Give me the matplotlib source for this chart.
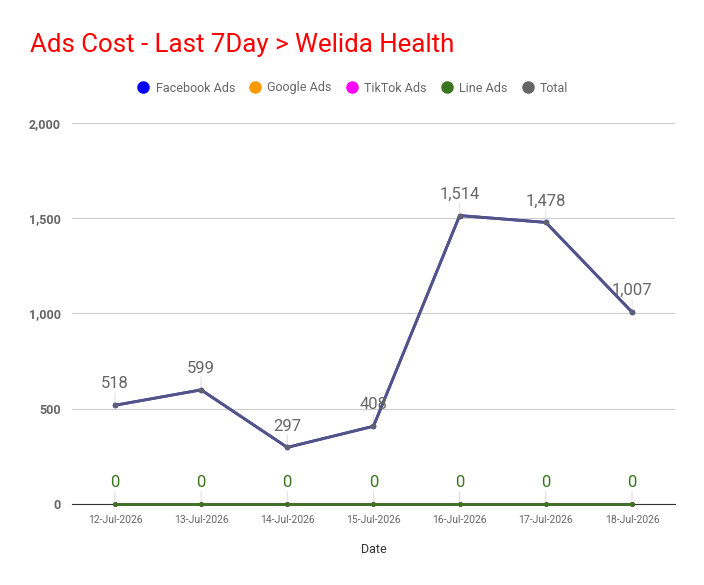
import numpy as np
import matplotlib.pyplot as plt
from matplotlib.lines import Line2D

plt.rcParams['font.family'] = ['Roboto', 'DejaVu Sans']

dates = ["12-Jul-2026", "13-Jul-2026", "14-Jul-2026", "15-Jul-2026",
         "16-Jul-2026", "17-Jul-2026", "18-Jul-2026"]
facebook = [518, 599, 297, 408, 1514, 1478, 1007]
google = [0, 0, 0, 0, 0, 0, 0]
tiktok = [0, 0, 0, 0, 0, 0, 0]
line_ads = [0, 0, 0, 0, 0, 0, 0]
total = [518, 599, 297, 408, 1514, 1478, 1007]

series_names = ["Facebook Ads", "Google Ads", "TikTok Ads", "Line Ads", "Total"]
series_colors = ["#0000ff", "#ff9900", "#ff00ff", "#38761d", "#666666"]

fig = plt.figure(figsize=(7.04, 5.85), dpi=100)
ax = fig.add_axes([0.102, 0.1385, 0.857, 0.6513])
x = np.arange(len(dates))

ax.set_ylim(0, 2000)
ax.set_xlim(-0.5, len(dates) - 0.5)
ax.set_yticks([0, 500, 1000, 1500, 2000])
ax.set_yticklabels(["{:,}".format(v) for v in [0, 500, 1000, 1500, 2000]],
                   fontsize=9, fontweight='bold', color="#666666")
ax.grid(axis='y', color="#cccccc", linewidth=0.8)
ax.set_axisbelow(True)
for s in ['top', 'right', 'left']:
    ax.spines[s].set_visible(False)
ax.spines['bottom'].set_color("#333333")
ax.spines['bottom'].set_zorder(2)
ax.tick_params(axis='y', length=0, pad=8)
ax.tick_params(axis='x', length=0, pad=8)
ax.set_xticks(x)
ax.set_xticklabels(dates, fontsize=7.5, color="#666666")
ax.set_xlabel("Date", fontsize=9, color="#333333", labelpad=13)

# stems from points to labels
def stems(vals, off):
    for xi, v in zip(x, vals):
        ax.annotate("", xy=(xi, v), xytext=(0, off), textcoords='offset points',
                    arrowprops=dict(arrowstyle='-', color="#e0e0e0", lw=0.8,
                                    shrinkA=0, shrinkB=0), zorder=1)

stems(total, 9)
stems(line_ads, 9)

ax.plot(x, google, color=series_colors[1], lw=2, marker='o', ms=2.5, zorder=3, clip_on=False)
ax.plot(x, tiktok, color=series_colors[2], lw=2, marker='o', ms=2.5, zorder=3, clip_on=False)
ax.plot(x, line_ads, color=series_colors[3], lw=2, marker='o', ms=2.5, zorder=4, clip_on=False)
ax.plot(x, facebook, color=series_colors[0], lw=2, marker='o', ms=3, zorder=5)
ax.plot(x, total, color=series_colors[4], lw=2, marker='o', ms=3, alpha=0.83, zorder=6)

for xi, v in zip(x, total):
    ax.annotate("{:,}".format(v), xy=(xi, v), xytext=(0, 10), textcoords='offset points',
                ha='center', va='bottom', fontsize=12, color="#666666", zorder=7)
for xi, v in zip(x, line_ads):
    ax.annotate("{:,}".format(v), xy=(xi, v), xytext=(0, 10), textcoords='offset points',
                ha='center', va='bottom', fontsize=12, color=series_colors[3], zorder=7)

fig.text(30 / 704, 1 - 45 / 585, "Ads Cost - Last 7Day > Welida Health",
         fontsize=18.6, color="#ff0000", ha='left', va='center')

handles = [Line2D([], [], linestyle='none', marker='o', markersize=8,
                  markerfacecolor=c, markeredgecolor=c) for c in series_colors]
fig.legend(handles, series_names, loc='center', bbox_to_anchor=(0.5, 1 - 88 / 585),
           ncol=5, frameon=False, fontsize=9, labelcolor="#666666",
           handletextpad=0.4, columnspacing=1.0, handlelength=1.2)

fig.savefig("out.png", dpi=100)
